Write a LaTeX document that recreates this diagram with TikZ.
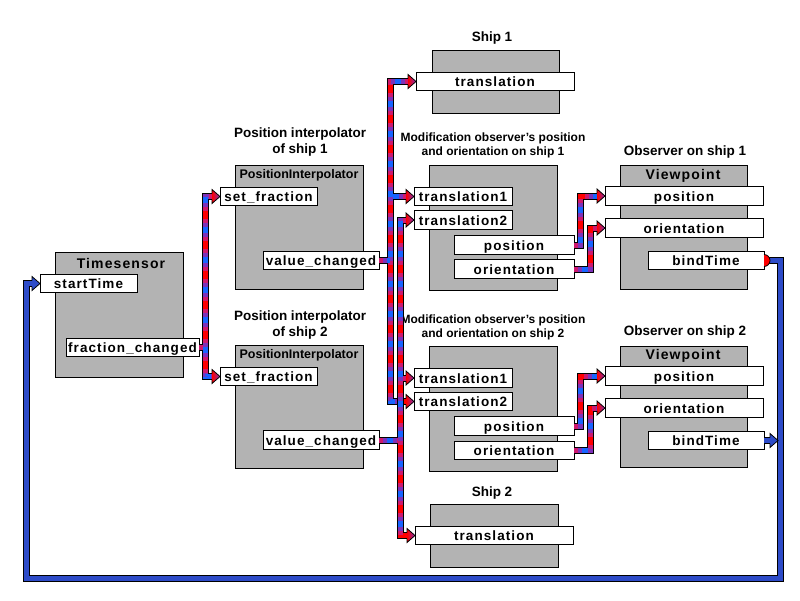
\documentclass[tikz,border=0pt]{standalone}
\usepackage{fontspec}
\setmainfont{Liberation Sans}
\newfontfamily\spacedfont[LetterSpace=8]{Liberation Sans}
\usetikzlibrary{calc}
\definecolor{boxgray}{RGB}{179,179,179}
\definecolor{pipered}{RGB}{255,0,0}
\definecolor{pipewine}{RGB}{205,25,110}
\definecolor{pipeviolet}{RGB}{125,50,185}
\definecolor{pipeblue}{RGB}{25,100,255}
\definecolor{loopblue}{RGB}{45,75,200}
\tikzset{
  block/.style={draw, fill=boxgray, line width=0.8pt, inner sep=0pt, outer sep=0pt},
  field/.style={draw, fill=white, line width=0.8pt, inner sep=0pt, outer sep=0pt,
    minimum height=18.5pt, text height=10pt, text depth=0pt,
    font=\spacedfont\bfseries\fontsize{13.5}{14}\selectfont},
  block title/.style={font=\spacedfont\bfseries\fontsize{14}{16}\selectfont},
  inner title/.style={font=\bfseries\fontsize{12.5}{14}\selectfont},
  caption/.style={align=center, font=\bfseries\fontsize{13.5}{16}\selectfont},
  small caption/.style={align=center, font=\bfseries\fontsize{12}{14}\selectfont},
  pipe/.style={draw=pipered, line width=5pt, line join=miter,
    preaction={draw=black, line width=7pt},
    postaction={draw=pipewine, dash pattern=on 22pt off 8pt},
    postaction={draw=pipeviolet, dash pattern=on 14pt off 16pt, dash phase=26pt},
    postaction={draw=pipeblue, dash pattern=on 6pt off 24pt, dash phase=22pt}},
  loop pipe/.style={draw=loopblue, line width=5pt, line join=miter,
    preaction={draw=black, line width=7pt}},
  head/.pic={
    \shade[left color=pipered, right color=pipeviolet] (0,0) -- (-8,-7) -- (-8,7) -- cycle;
    \draw[line width=0.8pt] (-8,-3) -- (-8,-7) -- (0,0) -- (-8,7) -- (-8,3);
  },
  blue head/.pic={
    \fill[loopblue] (0,0) -- (-8,-7) -- (-8,7) -- cycle;
    \draw[line width=0.8pt] (-8,-3) -- (-8,-7) -- (0,0) -- (-8,7) -- (-8,3);
  }
}

\begin{document}
\begin{tikzpicture}[x=1pt, y=-1pt]
\useasboundingbox (0,0) rectangle (800,600);
% 座標設定
\coordinate (busA) at (205,0);
\coordinate (busB) at (390,0);
\coordinate (busC) at (400,0);
\coordinate (riseA) at (580,0);
\coordinate (riseB) at (590,0);
\coordinate (loopSE) at (780,578);
\coordinate (loopSW) at (26,578);
% 箱の描画
\node[block, minimum width=128pt, minimum height=125pt] (TS) at (119,314.5) {};
\node[block, minimum width=128pt, minimum height=124pt] (PI1) at (299,227) {};
\node[block, minimum width=128pt, minimum height=123pt] (PI2) at (299,406.5) {};
\node[block, minimum width=127pt, minimum height=63pt] (S1) at (495.5,81.5) {};
\node[block, minimum width=128pt, minimum height=125pt] (M1) at (493,227.5) {};
\node[block, minimum width=128pt, minimum height=125pt] (M2) at (493,408.5) {};
\node[block, minimum width=128pt, minimum height=63pt] (S2) at (494,535.5) {};
\node[block, minimum width=127pt, minimum height=124pt] (VP1) at (683.5,227) {};
\node[block, minimum width=127pt, minimum height=121pt] (VP2) at (683.5,406.5) {};
\node[block title] (TS-t) at (121,263) {Timesensor};
\node[inner title] (PI1-t) at (299,175) {PositionInterpolator};
\node[inner title] (PI2-t) at (299,355) {PositionInterpolator};
\node[block title] (VP1-t) at (683,176) {Viewpoint};
\node[block title] (VP2-t) at (683,356) {Viewpoint};
% フィールドの描画
\node[field, minimum width=97pt] (ST) at (88.5,283.5) {startTime};
\node[field, minimum width=133pt] (FC) at (132.5,347.5) {fraction\_changed};
\node[field, minimum width=97pt] (SF1) at (268.5,196.5) {set\_fraction};
\node[field, minimum width=116pt] (VC1) at (321,260.5) {value\_changed};
\node[field, minimum width=97pt] (SF2) at (268.5,376.5) {set\_fraction};
\node[field, minimum width=116pt] (VC2) at (321,440) {value\_changed};
\node[field, minimum width=158pt] (S1T) at (495,81.5) {translation};
\node[field, minimum width=98pt] (M1A) at (463,196.5) {translation1};
\node[field, minimum width=98pt] (M1B) at (463,220) {translation2};
\node[field, minimum width=120pt] (M1P) at (514,245) {position};
\node[field, minimum width=120pt] (M1O) at (514,269) {orientation};
\node[field, minimum width=98pt] (M2A) at (463,378) {translation1};
\node[field, minimum width=98pt] (M2B) at (463,401.5) {translation2};
\node[field, minimum width=120pt] (M2P) at (514,426) {position};
\node[field, minimum width=120pt] (M2O) at (514,450.5) {orientation};
\node[field, minimum width=158pt] (V1P) at (684,196) {position};
\node[field, minimum width=158pt] (V1O) at (684,228) {orientation};
\node[field, minimum width=116pt] (V1B) at (706,260.5) {bindTime};
\node[field, minimum width=158pt] (V2P) at (684,376) {position};
\node[field, minimum width=158pt] (V2O) at (684,408) {orientation};
\node[field, minimum width=116pt] (V2B) at (706,440.5) {bindTime};
\node[field, minimum width=158pt] (S2T) at (494,535.5) {translation};
% ラベルの描画
\node[caption] (PI1-cap) at (300,142) {Position interpolator\\of ship 1};
\node[caption] (PI2-cap) at (300,325.5) {Position interpolator\\of ship 2};
\node[caption] (S1-cap) at (492,38) {Ship 1};
\node[caption] (S2-cap) at (492,493) {Ship 2};
\node[small caption] (M1-cap) at (493,145) {Modification observer's position\\and orientation on ship 1};
\node[small caption] (M2-cap) at (493,327) {Modification observer's position\\and orientation on ship 2};
\node[caption] (VP1-cap) at (685,152) {Observer on ship 1};
\node[caption] (VP2-cap) at (685,332) {Observer on ship 2};
% 接続の描画
\draw[pipe] (FC.east) -- (busA |- FC.east)
  ($(SF1.west)+(-7,0)$) -| (busA |- SF2.west) -- ($(SF2.west)+(-7,0)$);
\draw[pipe] (VC1.east) -- (busB |- VC1.east)
  ($(M1A.west)+(-7,0)$) -- (busB |- M1A.west)
  ($(S1T.west)+(-7,0)$) -| (busB |- M2B.west) -- ($(M2B.west)+(-7,0)$);
\draw[pipe] (VC2.east) -- (busC |- VC2.east)
  ($(M2A.west)+(-7,0)$) -- (busC |- M2A.west)
  ($(M1B.west)+(-7,0)$) -| (busC |- S2T.west) -- ($(S2T.west)+(-7,0)$);
\draw[pipe] (M1P.east) -| (riseA |- V1P.west) -- ($(V1P.west)+(-7,0)$);
\draw[pipe] (M1O.east) -| (riseB |- V1O.west) -- ($(V1O.west)+(-7,0)$);
\draw[pipe] (M2P.east) -| (riseA |- V2P.west) -- ($(V2P.west)+(-7,0)$);
\draw[pipe] (M2O.east) -| (riseB |- V2O.west) -- ($(V2O.west)+(-7,0)$);
\draw[loop pipe] (V1B.east) -| (loopSE) -| (loopSW |- ST.west) -- ($(ST.west)+(-7,0)$);
\draw[loop pipe] (V2B.east) -- ($(V2B.east)+(7,0)$);
% 矢印の描画
\pic at (SF1.west) {head};
\pic at (SF2.west) {head};
\pic at (S1T.west) {head};
\pic at (M1A.west) {head};
\pic at (M1B.west) {head};
\pic at (M2A.west) {head};
\pic at (M2B.west) {head};
\pic at (S2T.west) {head};
\pic at (V1P.west) {head};
\pic at (V1O.west) {head};
\pic at (V2P.west) {head};
\pic at (V2O.west) {head};
\pic at (ST.west) {blue head};
\pic at ($(V2B.east)+(14,0)$) {blue head};
\draw[fill=pipered, line width=0.8pt] ($(V1B.east)+(0,-6)$) arc[start angle=-90, end angle=90, radius=6];
\end{tikzpicture}
\end{document}
